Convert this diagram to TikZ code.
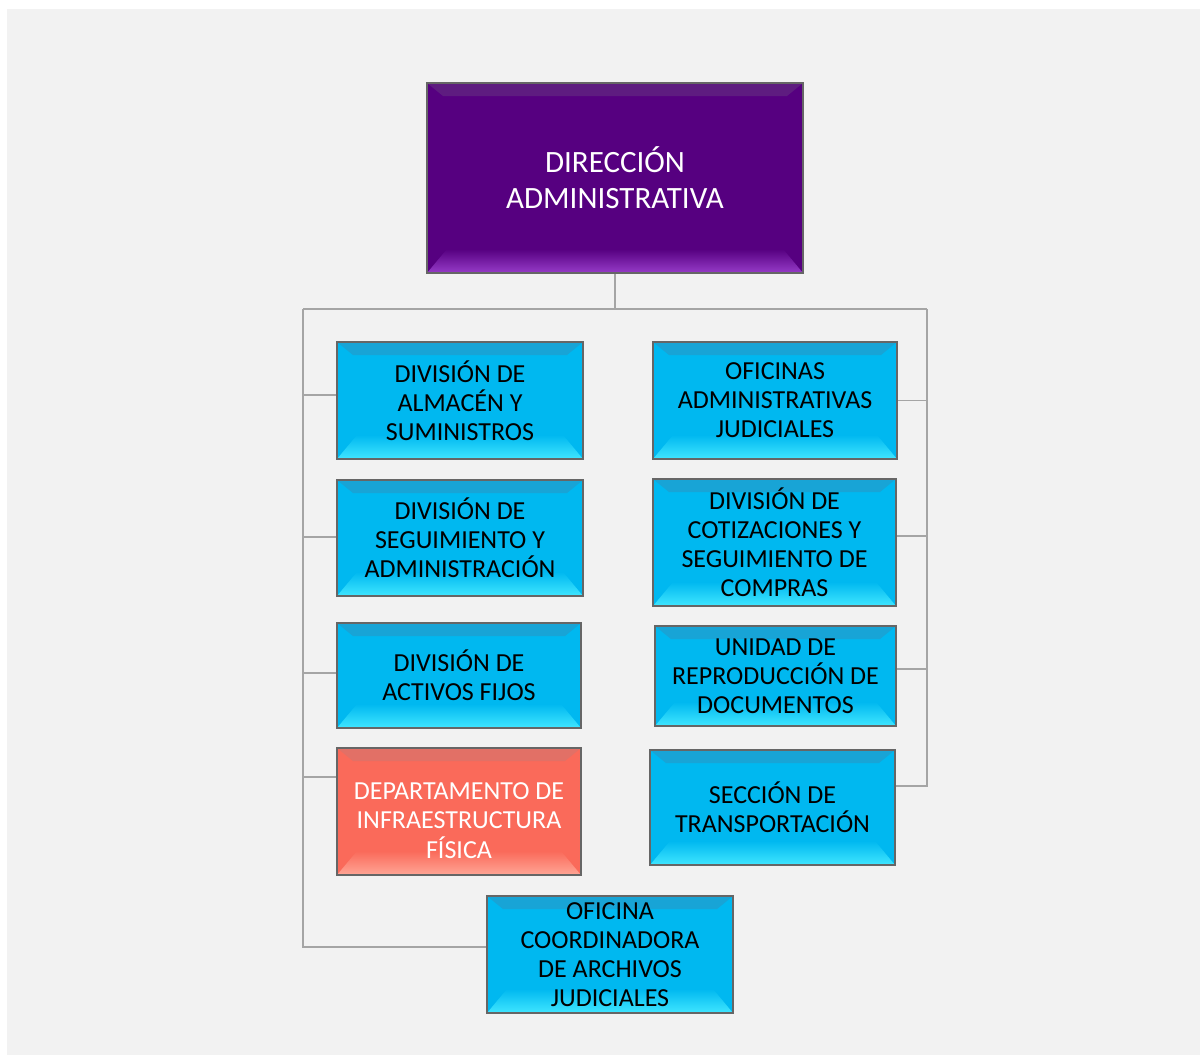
\documentclass[tikz,border=0pt]{standalone}
\usepackage{fontspec}
\setmainfont{Carlito}
\usepackage{tikz}
\definecolor{bg gray}{rgb}{0.949, 0.949, 0.949}
\definecolor{line gray}{RGB}{165,165,165}
\definecolor{box cyan}{RGB}{0,184,240}
\definecolor{cyan top}{RGB}{24,164,214}
\definecolor{cyan low}{RGB}{64,230,255}
\definecolor{box purple}{RGB}{86,0,128}
\definecolor{purple top}{RGB}{94,28,128}
\definecolor{purple low}{RGB}{150,60,200}
\definecolor{box red}{RGB}{250,106,90}
\definecolor{red top}{RGB}{226,112,102}
\definecolor{red low}{RGB}{255,166,150}

\tikzset{
	bevel/.code n args={3}{\def\bevbase{#1}\def\bevtop{#2}\def\bevlow{#3}},
	orgbox/.style={draw=black!60, line width=1.6pt, inner sep=0pt, align=center,
		font=\fontsize{26}{29}\selectfont,
		path picture={
			\fill[\bevtop] (path picture bounding box.north west) -- (path picture bounding box.north east)
				-- ([shift={(-16pt,-13pt)}]path picture bounding box.north east)
				-- ([shift={(16pt,-13pt)}]path picture bounding box.north west) -- cycle;
			\shade[top color=\bevbase, bottom color=\bevlow]
				([shift={(20pt,24pt)}]path picture bounding box.south west)
				-- ([shift={(-20pt,24pt)}]path picture bounding box.south east)
				-- (path picture bounding box.south east) -- (path picture bounding box.south west) -- cycle;
		}},
	cyanbox/.style={orgbox, fill=box cyan, text=black, bevel={box cyan}{cyan top}{cyan low}},
	purplebox/.style={orgbox, fill=box purple, text=white, bevel={box purple}{purple top}{purple low}},
	redbox/.style={orgbox, fill=box red, text=white, bevel={box red}{red top}{red low}},
	conn/.style={draw=line gray, line width=1.5pt}
}

\begin{document}
\begin{tikzpicture}[x=1pt, y=-1pt]
			% background
			\useasboundingbox (0,0) rectangle (1200,1055);
			\fill[white] (0,0) rectangle (1200,1055);
			\fill[bg gray] (7,9) rectangle (1200,1055);
			% director
			\node[purplebox, minimum width=376pt, minimum height=190pt,
				font=\fontsize{31}{36}\selectfont] (dir) at (615,178) {DIRECCIÓN\\ADMINISTRATIVA};
			% left column
			\node[cyanbox, minimum width=246pt, minimum height=117pt] (alm) at (460,400.5)
				{DIVISIÓN DE\\ALMACÉN Y\\SUMINISTROS};
			\node[cyanbox, minimum width=246pt, minimum height=116pt] (seg) at (460,538)
				{DIVISIÓN DE\\SEGUIMIENTO Y\\ADMINISTRACIÓN};
			\node[cyanbox, minimum width=244pt, minimum height=105pt] (act) at (459,675.5)
				{DIVISIÓN DE\\ACTIVOS FIJOS};
			\node[redbox, minimum width=244pt, minimum height=127pt] (inf) at (459,811.5)
				{\raisebox{-18pt}[0pt][0pt]{\begin{tabular}{@{}c@{}}DEPARTAMENTO DE\\INFRAESTRUCTURA\\FÍSICA\end{tabular}}};
			% right column
			\node[cyanbox, minimum width=244pt, minimum height=117pt] (ofi) at (775,400.5)
				{OFICINAS\\ADMINISTRATIVAS\\JUDICIALES};
			\node[cyanbox, minimum width=243pt, minimum height=127pt] (cot) at (774.5,542.5)
				{DIVISIÓN DE\\COTIZACIONES Y\\SEGUIMIENTO DE\\COMPRAS};
			\node[cyanbox, minimum width=241pt, minimum height=100pt] (rep) at (775.5,676)
				{UNIDAD DE\\REPRODUCCIÓN DE\\DOCUMENTOS};
			\node[cyanbox, minimum width=245pt, minimum height=115pt] (tra) at (772.5,807.5)
				{SECCIÓN DE\\TRANSPORTACIÓN};
			% bottom
			\node[cyanbox, minimum width=246pt, minimum height=117pt] (arc) at (610,954.5)
				{OFICINA\\COORDINADORA\\DE ARCHIVOS\\JUDICIALES};
			% connectors
			\coordinate (bus) at (615,309);
			\coordinate (busL) at (303,309);
			\coordinate (busR) at (927,309);
			\draw[conn] (dir.south) -- (bus);
			\draw[conn] (busL) -- (busR);
			\draw[conn] (busL) |- ([yshift=7.5pt]arc.west);
			\draw[conn] (busR) |- ([yshift=21.5pt]tra.east);
			\draw[conn] ([yshift=5.5pt]alm.west) -| (busL);
			\draw[conn] ([yshift=1pt]seg.west) -| (busL);
			\draw[conn] ([yshift=2.5pt]act.west) -| (busL);
			\draw[conn] ([yshift=34.5pt]inf.west) -| (busL);
			\draw[conn] (ofi.east) -| (busR);
			\draw[conn] ([yshift=6.5pt]cot.east) -| (busR);
			\draw[conn] ([yshift=7pt]rep.east) -| (busR);
\end{tikzpicture}
\end{document}
